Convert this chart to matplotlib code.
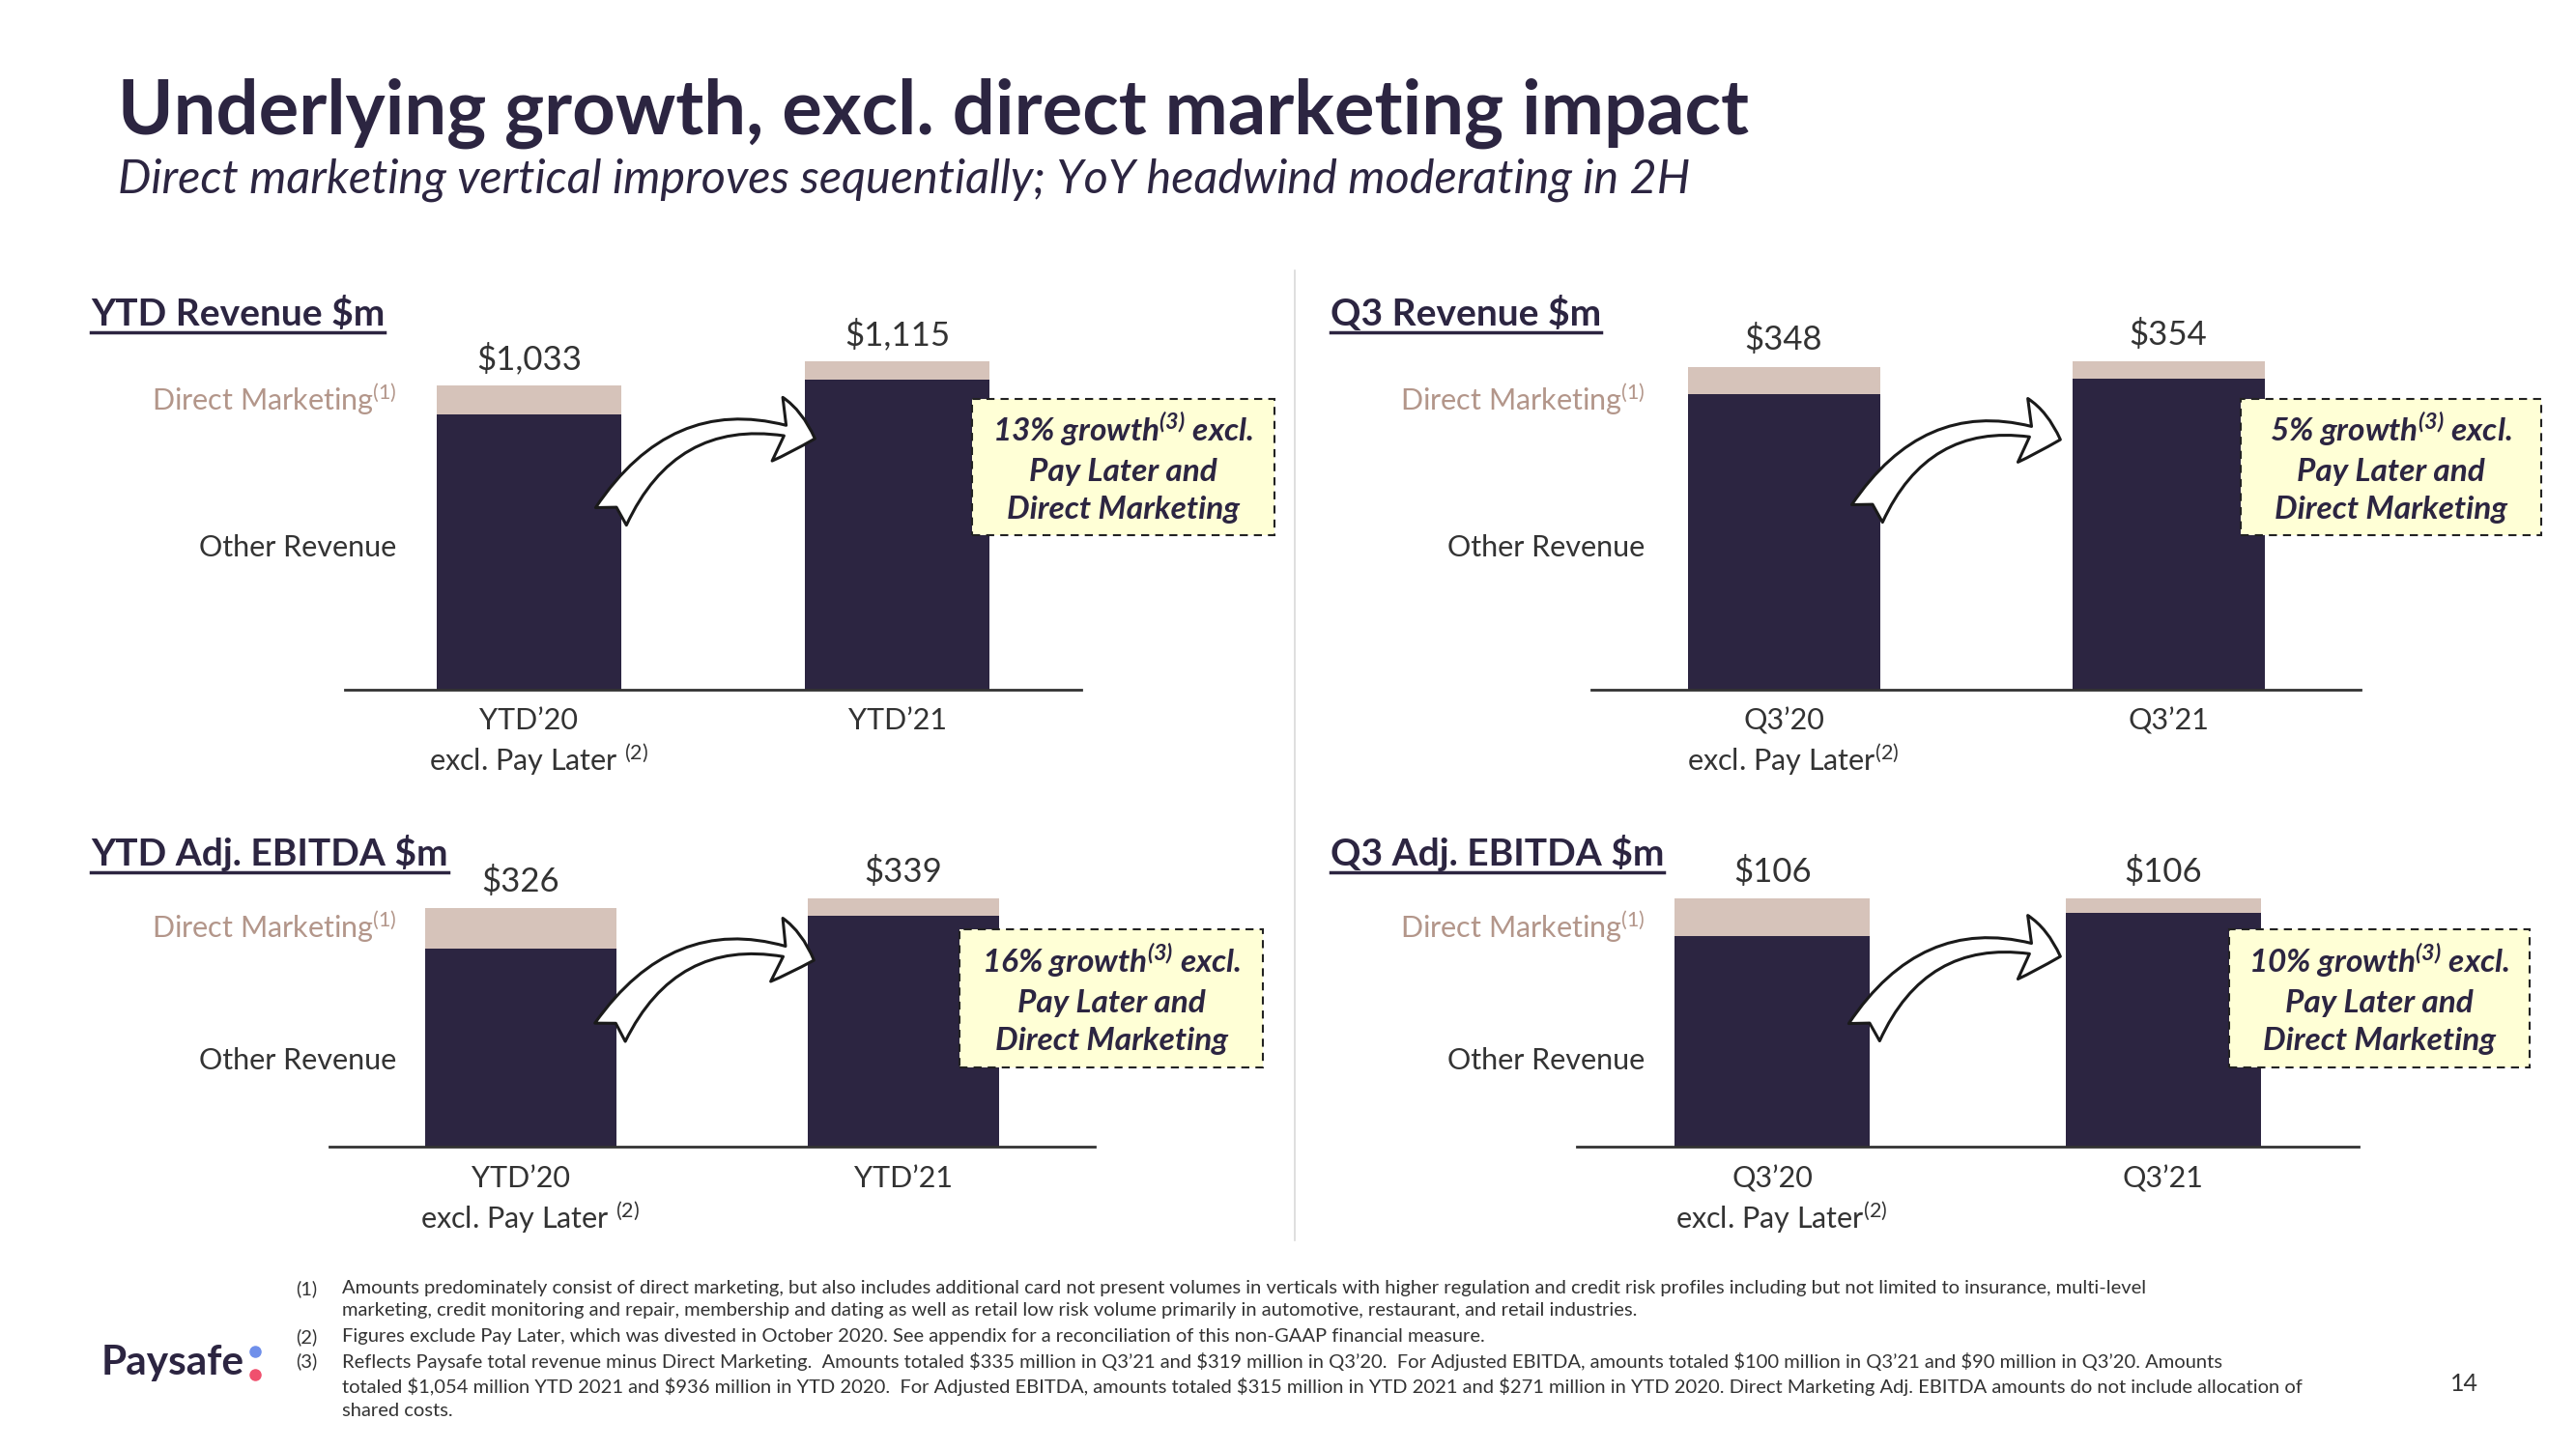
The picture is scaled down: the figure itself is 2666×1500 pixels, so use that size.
import matplotlib
matplotlib.use("Agg")
import matplotlib.pyplot as plt
from matplotlib.patches import Rectangle, FancyArrowPatch
from matplotlib.lines import Line2D

plt.rcParams['font.family'] = ['Lato', 'DejaVu Sans']
plt.rcParams['mathtext.fontset'] = 'custom'
plt.rcParams['mathtext.rm'] = 'Lato'
plt.rcParams['mathtext.it'] = 'Lato:italic'
plt.rcParams['mathtext.bf'] = 'Lato:bold'
plt.rcParams['mathtext.bfit'] = 'Lato:italic:bold'

# data ($m)
panel_titles = ["YTD Revenue $m", "Q3 Revenue $m", "YTD Adj. EBITDA $m", "Q3 Adj. EBITDA $m"]
periods = [["YTD’20", "YTD’21"], ["Q3’20", "Q3’21"], ["YTD’20", "YTD’21"], ["Q3’20", "Q3’21"]]
excl_labels = ["excl. Pay Later $^{(2)}$", "excl. Pay Later$^{(2)}$",
               "excl. Pay Later $^{(2)}$", "excl. Pay Later$^{(2)}$"]
totals = [[1033, 1115], [348, 354], [326, 339], [106, 106]]
other_rev = [[936, 1054], [319, 335], [271, 315], [90, 100]]
growth = ["13%", "5%", "16%", "10%"]

footnotes = [
    ("(1)", "Amounts predominately consist of direct marketing, but also includes additional card not present volumes in verticals with higher regulation and credit risk profiles including but not limited to insurance, multi-level\n"
            "marketing, credit monitoring and repair, membership and dating as well as retail low risk volume primarily in automotive, restaurant, and retail industries."),
    ("(2)", "Figures exclude Pay Later, which was divested in October 2020. See appendix for a reconciliation of this non-GAAP financial measure."),
    ("(3)", "Reflects Paysafe total revenue minus Direct Marketing.  Amounts totaled $335 million in Q3’21 and $319 million in Q3’20.  For Adjusted EBITDA, amounts totaled $100 million in Q3’21 and $90 million in Q3’20. Amounts\n"
            "totaled $1,054 million YTD 2021 and $936 million in YTD 2020.  For Adjusted EBITDA, amounts totaled $315 million in YTD 2021 and $271 million in YTD 2020. Direct Marketing Adj. EBITDA amounts do not include allocation of\n"
            "shared costs."),
]

NAVY = "#2c2541"
DM = "#d6c3ba"
TAN = "#b3968a"
GREY = "#333333"
BOX = "#ffffd6"

W, H = 2666, 1500
fig = plt.figure(figsize=(W / 100, H / 100), dpi=100)


def fx(x):
    return x / W


def fy(y):
    return 1 - y / H


# layout in pixels: left, right, baseline, top of tallest bar
rects = [(357, 1119, 714, 374), (1647, 2443, 714, 374),
         (341, 1133, 1187, 930), (1632, 2441, 1187, 930)]
title_pos = [(94, 337), (1377, 337), (94, 896), (1377, 896)]
label_right = [410, 1702, 410, 1702]
dm_y = [425, 425, 971, 971]
other_y = [576, 576, 1107, 1107]
boxes = [(1006, 413, 1319, 554), (2319, 413, 2630, 554),
         (993, 962, 1307, 1105), (2307, 962, 2618, 1105)]
arrows = [((631, 537), (846, 455)), ((1931, 534), (2135, 456)),
          ((630, 1071), (845, 995)), ((1928, 1071), (2135, 991))]
cat_off = [(-23, -52), (-23, -52), (-24, -53), (-24, -53)]

for p in range(4):
    l, r, b, t = rects[p]
    ax = fig.add_axes([fx(l), fy(b), (r - l) / W, (b - t) / H])
    dm = [totals[p][i] - other_rev[p][i] for i in range(2)]
    ax.bar([0, 1], other_rev[p], width=0.5, color=NAVY, clip_on=False)
    ax.bar([0, 1], dm, width=0.5, bottom=other_rev[p], color=DM, clip_on=False)
    ax.set_xlim(-0.5, 1.5)
    ax.set_ylim(0, max(totals[p]))
    for s in ["left", "right", "top"]:
        ax.spines[s].set_visible(False)
    ax.spines["bottom"].set_color("#333333")
    ax.spines["bottom"].set_linewidth(2)
    ax.set_xticks([])
    ax.set_yticks([])
    ax.patch.set_alpha(0)
    for i in range(2):
        ax.annotate(f"${totals[p][i]:,}", (i, totals[p][i]), xytext=(0, 20),
                    textcoords="offset points", ha="center", va="center",
                    fontsize=25, color=GREY, parse_math=False)
        ax.annotate(periods[p][i], (i, 0), xytext=(0, cat_off[p][0]),
                    textcoords="offset points", ha="center", va="center",
                    fontsize=22, color=GREY)
    ax.annotate(excl_labels[p], (0, 0), xytext=(7, cat_off[p][1]),
                textcoords="offset points", ha="center", va="center",
                fontsize=22, color=GREY)

    # panel title, underlined
    tx, ty = title_pos[p]
    ttl = fig.text(fx(tx), fy(ty), panel_titles[p], fontsize=28, fontweight="bold",
                   color=NAVY, va="baseline", parse_math=False)

    fig.text(fx(label_right[p]), fy(dm_y[p]), "Direct Marketing$^{(1)}$", ha="right",
             va="baseline", fontsize=22, color=TAN)
    fig.text(fx(label_right[p]), fy(other_y[p]), "Other Revenue", ha="right",
             va="baseline", fontsize=22, color=GREY)

    # growth call-out box
    x0, y0, x1, y1 = boxes[p]
    fig.add_artist(Rectangle((fx(x0), fy(y1)), (x1 - x0) / W, (y1 - y0) / H,
                             transform=fig.transFigure, facecolor=BOX,
                             edgecolor="#222222", lw=1.5, ls=(0, (4, 3))))
    fig.text(fx((x0 + x1) / 2), fy((y0 + y1) / 2),
             growth[p] + " growth$^{\\mathbfit{(3)}}$ excl.\nPay Later and\nDirect Marketing",
             ha="center", va="center", fontsize=24, fontweight="bold", style="italic",
             color=NAVY, linespacing=1.4)

    # curved arrow between bars
    (ax0, ay0), (ax1, ay1) = arrows[p]
    fig.add_artist(FancyArrowPatch((fx(ax0), fy(ay0)), (fx(ax1), fy(ay1)),
                                   transform=fig.transFigure,
                                   connectionstyle="arc3,rad=-0.42",
                                   arrowstyle="fancy,head_length=0.6,head_width=1.0,tail_width=0.55",
                                   mutation_scale=48, facecolor="white",
                                   edgecolor="#1a1a1a", lw=2.2))

    fig.canvas.draw()
    bb = ttl.get_window_extent()
    fig.add_artist(Line2D([bb.x0 / W, bb.x1 / W], [fy(ty + 7)] * 2,
                          transform=fig.transFigure, color=NAVY, lw=2.5))

# slide title and subtitle
fig.text(fx(122), fy(139), "Underlying growth, excl. direct marketing impact",
         fontsize=56, fontweight="bold", color=NAVY, va="baseline")
fig.text(fx(122), fy(200), "Direct marketing vertical improves sequentially; YoY headwind moderating in 2H",
         fontsize=35, style="italic", color=NAVY, va="baseline")

# divider
fig.add_artist(Line2D([fx(1340)] * 2, [fy(280), fy(1284)], transform=fig.transFigure,
                      color="#d9d9d9", lw=1.2))

# footnotes
line_y = 1325
for num, txt in footnotes:
    fig.text(fx(306), fy(line_y), num, fontsize=14.5, color=GREY, va="top", parse_math=False)
    fig.text(fx(354), fy(line_y), txt, fontsize=14.5, color=GREY, va="top", parse_math=False,
             linespacing=1.45)
    line_y += 25 * (txt.count("\n") + 1)

# logo and page number
fig.text(fx(105), fy(1411), "Paysafe", fontsize=30.5, fontweight="bold", color=NAVY, va="center")
fig.add_artist(Line2D([fx(264)], [fy(1399)], marker="o", markersize=8, color="#6f8fea",
                      transform=fig.transFigure))
fig.add_artist(Line2D([fx(264)], [fy(1423)], marker="o", markersize=8, color="#f0506e",
                      transform=fig.transFigure))
fig.text(fx(2550), fy(1433), "14", fontsize=18, color=GREY, ha="center", va="center")

fig.savefig("out.png", dpi=100, facecolor="white")
